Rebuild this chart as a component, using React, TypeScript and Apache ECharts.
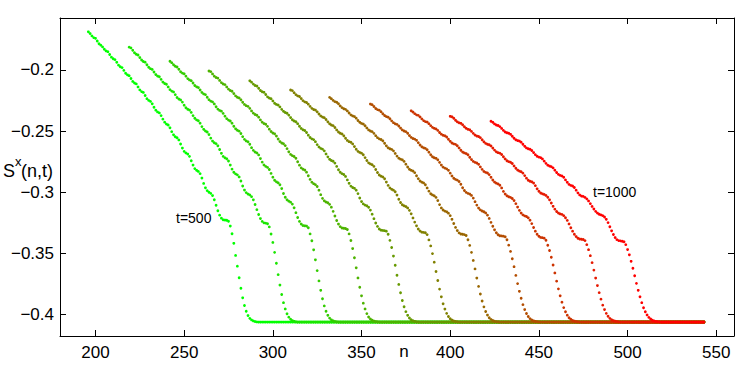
import React, { useEffect, useRef } from "react";
import * as echarts from "echarts";

// ---- data ----
const T_VALUES = [500, 550, 600, 650, 700, 750, 800, 850, 900, 950, 1000];
// first site n of each curve (one point per integer n)
const N_START = [196, 219, 242, 264, 287, 310, 332, 355, 378, 400, 423];
// common floor reached by every curve, and last site drawn
const PLATEAU = -0.406;
const N_END = 543;

const S_T500 = [-0.1690,-0.1704,-0.1723,-0.1737,-0.1743,-0.1765,-0.1787,-0.1799,-0.1813,-0.1832,-0.1846,-0.1852,-0.1875,-0.1897,-0.1910,-0.1917,-0.1939,-0.1962,-0.1975,-0.1982,-0.2005,-0.2028,-0.2041,-0.2048,-0.2071,-0.2095,-0.2108,-0.2115,-0.2140,-0.2164,-0.2178,-0.2185,-0.2210,-0.2236,-0.2250,-0.2258,-0.2278,-0.2306,-0.2330,-0.2344,-0.2352,-0.2374,-0.2403,-0.2428,-0.2443,-0.2451,-0.2474,-0.2505,-0.2531,-0.2547,-0.2555,-0.2573,-0.2606,-0.2639,-0.2666,-0.2679,-0.2688,-0.2707,-0.2743,-0.2778,-0.2807,-0.2821,-0.2830,-0.2848,-0.2884,-0.2928,-0.2964,-0.2987,-0.3000,-0.3009,-0.3027,-0.3061,-0.3106,-0.3151,-0.3187,-0.3212,-0.3225,-0.3227,-0.3229,-0.3237,-0.3276,-0.3339,-0.3417,-0.3516,-0.3604,-0.3698,-0.3784,-0.3862,-0.3925,-0.3972,-0.4007,-0.4030,-0.4043,-0.4051,-0.4056,-0.4059];
const S_T550 = [-0.1815,-0.1821,-0.1841,-0.1861,-0.1873,-0.1879,-0.1900,-0.1920,-0.1932,-0.1938,-0.1959,-0.1979,-0.1991,-0.1997,-0.2018,-0.2039,-0.2051,-0.2057,-0.2078,-0.2100,-0.2112,-0.2118,-0.2140,-0.2162,-0.2174,-0.2181,-0.2203,-0.2226,-0.2239,-0.2246,-0.2264,-0.2289,-0.2310,-0.2322,-0.2329,-0.2348,-0.2374,-0.2396,-0.2409,-0.2416,-0.2436,-0.2464,-0.2486,-0.2500,-0.2508,-0.2529,-0.2558,-0.2582,-0.2596,-0.2603,-0.2621,-0.2651,-0.2682,-0.2707,-0.2719,-0.2727,-0.2745,-0.2778,-0.2811,-0.2837,-0.2850,-0.2858,-0.2875,-0.2908,-0.2949,-0.2982,-0.3003,-0.3015,-0.3022,-0.3036,-0.3062,-0.3100,-0.3142,-0.3182,-0.3215,-0.3238,-0.3250,-0.3252,-0.3257,-0.3283,-0.3341,-0.3410,-0.3491,-0.3580,-0.3673,-0.3758,-0.3835,-0.3902,-0.3953,-0.3993,-0.4020,-0.4037,-0.4048,-0.4054,-0.4058];
const S_T600 = [-0.1930,-0.1942,-0.1959,-0.1971,-0.1977,-0.1996,-0.2016,-0.2027,-0.2033,-0.2052,-0.2072,-0.2083,-0.2089,-0.2108,-0.2128,-0.2139,-0.2145,-0.2165,-0.2185,-0.2197,-0.2203,-0.2224,-0.2244,-0.2256,-0.2262,-0.2279,-0.2302,-0.2321,-0.2332,-0.2338,-0.2356,-0.2379,-0.2399,-0.2411,-0.2418,-0.2436,-0.2461,-0.2482,-0.2494,-0.2501,-0.2520,-0.2546,-0.2568,-0.2581,-0.2588,-0.2608,-0.2636,-0.2658,-0.2672,-0.2679,-0.2695,-0.2725,-0.2754,-0.2777,-0.2789,-0.2797,-0.2814,-0.2846,-0.2877,-0.2902,-0.2915,-0.2923,-0.2939,-0.2970,-0.3010,-0.3041,-0.3062,-0.3073,-0.3081,-0.3097,-0.3127,-0.3167,-0.3206,-0.3238,-0.3260,-0.3272,-0.3274,-0.3276,-0.3290,-0.3340,-0.3396,-0.3470,-0.3552,-0.3640,-0.3724,-0.3801,-0.3870,-0.3928,-0.3972,-0.4005,-0.4028,-0.4042,-0.4050,-0.4055,-0.4058];
const S_T650 = [-0.2010,-0.2015,-0.2034,-0.2052,-0.2063,-0.2068,-0.2087,-0.2105,-0.2116,-0.2121,-0.2140,-0.2158,-0.2169,-0.2175,-0.2194,-0.2213,-0.2224,-0.2230,-0.2245,-0.2265,-0.2283,-0.2293,-0.2299,-0.2315,-0.2336,-0.2354,-0.2365,-0.2371,-0.2387,-0.2409,-0.2428,-0.2439,-0.2445,-0.2462,-0.2485,-0.2504,-0.2516,-0.2523,-0.2541,-0.2565,-0.2586,-0.2598,-0.2604,-0.2619,-0.2644,-0.2670,-0.2691,-0.2701,-0.2708,-0.2723,-0.2751,-0.2779,-0.2801,-0.2812,-0.2819,-0.2836,-0.2865,-0.2895,-0.2918,-0.2930,-0.2938,-0.2953,-0.2983,-0.3020,-0.3050,-0.3070,-0.3080,-0.3086,-0.3099,-0.3122,-0.3156,-0.3194,-0.3231,-0.3260,-0.3281,-0.3292,-0.3294,-0.3296,-0.3304,-0.3340,-0.3394,-0.3460,-0.3535,-0.3617,-0.3700,-0.3776,-0.3846,-0.3906,-0.3953,-0.3991,-0.4019,-0.4035,-0.4045,-0.4052,-0.4056,-0.4058];
const S_T700 = [-0.2090,-0.2101,-0.2117,-0.2128,-0.2133,-0.2151,-0.2169,-0.2179,-0.2184,-0.2202,-0.2221,-0.2231,-0.2236,-0.2254,-0.2273,-0.2283,-0.2288,-0.2303,-0.2323,-0.2339,-0.2349,-0.2355,-0.2370,-0.2390,-0.2408,-0.2418,-0.2424,-0.2440,-0.2461,-0.2479,-0.2490,-0.2496,-0.2512,-0.2534,-0.2553,-0.2564,-0.2570,-0.2587,-0.2611,-0.2630,-0.2642,-0.2648,-0.2662,-0.2687,-0.2711,-0.2731,-0.2741,-0.2747,-0.2762,-0.2789,-0.2816,-0.2837,-0.2848,-0.2855,-0.2871,-0.2899,-0.2927,-0.2950,-0.2961,-0.2968,-0.2983,-0.3011,-0.3047,-0.3076,-0.3095,-0.3105,-0.3111,-0.3123,-0.3146,-0.3179,-0.3216,-0.3251,-0.3279,-0.3300,-0.3310,-0.3312,-0.3314,-0.3318,-0.3343,-0.3393,-0.3451,-0.3521,-0.3596,-0.3678,-0.3753,-0.3821,-0.3884,-0.3935,-0.3975,-0.4005,-0.4027,-0.4041,-0.4049,-0.4054,-0.4058];
const S_T750 = [-0.2165,-0.2170,-0.2187,-0.2203,-0.2213,-0.2218,-0.2235,-0.2252,-0.2262,-0.2267,-0.2281,-0.2299,-0.2315,-0.2324,-0.2329,-0.2343,-0.2361,-0.2377,-0.2386,-0.2391,-0.2406,-0.2425,-0.2441,-0.2451,-0.2456,-0.2471,-0.2491,-0.2508,-0.2518,-0.2524,-0.2539,-0.2559,-0.2577,-0.2587,-0.2592,-0.2605,-0.2627,-0.2649,-0.2666,-0.2675,-0.2681,-0.2694,-0.2717,-0.2741,-0.2760,-0.2769,-0.2775,-0.2789,-0.2814,-0.2839,-0.2859,-0.2869,-0.2875,-0.2890,-0.2917,-0.2944,-0.2965,-0.2976,-0.2983,-0.2996,-0.3023,-0.3057,-0.3084,-0.3102,-0.3111,-0.3117,-0.3128,-0.3148,-0.3176,-0.3210,-0.3244,-0.3274,-0.3300,-0.3317,-0.3326,-0.3328,-0.3331,-0.3346,-0.3389,-0.3438,-0.3501,-0.3571,-0.3647,-0.3721,-0.3791,-0.3854,-0.3911,-0.3954,-0.3989,-0.4015,-0.4033,-0.4044,-0.4051,-0.4055,-0.4058];
const S_T800 = [-0.2225,-0.2236,-0.2250,-0.2260,-0.2265,-0.2277,-0.2295,-0.2309,-0.2318,-0.2323,-0.2336,-0.2353,-0.2368,-0.2377,-0.2382,-0.2395,-0.2414,-0.2429,-0.2438,-0.2443,-0.2457,-0.2475,-0.2491,-0.2500,-0.2505,-0.2519,-0.2538,-0.2554,-0.2564,-0.2569,-0.2580,-0.2600,-0.2621,-0.2637,-0.2645,-0.2650,-0.2662,-0.2683,-0.2705,-0.2722,-0.2730,-0.2735,-0.2748,-0.2771,-0.2794,-0.2812,-0.2821,-0.2827,-0.2840,-0.2865,-0.2889,-0.2908,-0.2918,-0.2924,-0.2939,-0.2965,-0.2991,-0.3012,-0.3022,-0.3029,-0.3042,-0.3068,-0.3101,-0.3128,-0.3145,-0.3154,-0.3160,-0.3171,-0.3191,-0.3221,-0.3255,-0.3287,-0.3313,-0.3332,-0.3341,-0.3343,-0.3346,-0.3353,-0.3388,-0.3434,-0.3491,-0.3557,-0.3626,-0.3701,-0.3769,-0.3831,-0.3888,-0.3936,-0.3974,-0.4003,-0.4025,-0.4038,-0.4047,-0.4053,-0.4057,-0.4058];
const S_T850 = [-0.2280,-0.2285,-0.2300,-0.2316,-0.2325,-0.2330,-0.2342,-0.2359,-0.2373,-0.2382,-0.2387,-0.2400,-0.2417,-0.2432,-0.2441,-0.2446,-0.2459,-0.2476,-0.2491,-0.2500,-0.2505,-0.2518,-0.2537,-0.2552,-0.2561,-0.2566,-0.2576,-0.2595,-0.2614,-0.2629,-0.2637,-0.2642,-0.2653,-0.2673,-0.2694,-0.2710,-0.2718,-0.2723,-0.2735,-0.2756,-0.2778,-0.2795,-0.2803,-0.2809,-0.2821,-0.2844,-0.2867,-0.2886,-0.2895,-0.2901,-0.2912,-0.2935,-0.2963,-0.2986,-0.3001,-0.3009,-0.3015,-0.3026,-0.3048,-0.3077,-0.3105,-0.3129,-0.3144,-0.3153,-0.3159,-0.3169,-0.3187,-0.3214,-0.3246,-0.3278,-0.3307,-0.3331,-0.3347,-0.3355,-0.3357,-0.3359,-0.3364,-0.3388,-0.3432,-0.3483,-0.3543,-0.3608,-0.3679,-0.3746,-0.3809,-0.3866,-0.3918,-0.3958,-0.3990,-0.4015,-0.4032,-0.4043,-0.4050,-0.4054,-0.4057,-0.4059];
const S_T900 = [-0.2335,-0.2345,-0.2358,-0.2368,-0.2372,-0.2385,-0.2401,-0.2415,-0.2423,-0.2427,-0.2440,-0.2456,-0.2470,-0.2478,-0.2483,-0.2495,-0.2512,-0.2526,-0.2535,-0.2539,-0.2549,-0.2567,-0.2584,-0.2598,-0.2605,-0.2609,-0.2620,-0.2638,-0.2657,-0.2672,-0.2679,-0.2684,-0.2694,-0.2714,-0.2733,-0.2748,-0.2756,-0.2761,-0.2772,-0.2793,-0.2813,-0.2830,-0.2838,-0.2843,-0.2856,-0.2878,-0.2900,-0.2917,-0.2926,-0.2932,-0.2943,-0.2965,-0.2993,-0.3015,-0.3029,-0.3037,-0.3042,-0.3051,-0.3068,-0.3093,-0.3121,-0.3148,-0.3170,-0.3185,-0.3193,-0.3198,-0.3209,-0.3228,-0.3256,-0.3288,-0.3318,-0.3343,-0.3360,-0.3369,-0.3371,-0.3375,-0.3392,-0.3433,-0.3476,-0.3531,-0.3594,-0.3659,-0.3726,-0.3789,-0.3846,-0.3898,-0.3942,-0.3976,-0.4004,-0.4025,-0.4037,-0.4047,-0.4052,-0.4056,-0.4058];
const S_T950 = [-0.2380,-0.2384,-0.2396,-0.2412,-0.2425,-0.2433,-0.2437,-0.2449,-0.2465,-0.2478,-0.2486,-0.2490,-0.2503,-0.2519,-0.2533,-0.2541,-0.2545,-0.2554,-0.2571,-0.2588,-0.2601,-0.2608,-0.2612,-0.2622,-0.2639,-0.2656,-0.2670,-0.2677,-0.2681,-0.2692,-0.2710,-0.2728,-0.2743,-0.2750,-0.2755,-0.2765,-0.2785,-0.2804,-0.2819,-0.2827,-0.2832,-0.2844,-0.2864,-0.2885,-0.2902,-0.2910,-0.2915,-0.2925,-0.2946,-0.2972,-0.2992,-0.3006,-0.3013,-0.3018,-0.3026,-0.3041,-0.3062,-0.3088,-0.3115,-0.3138,-0.3157,-0.3170,-0.3177,-0.3181,-0.3191,-0.3208,-0.3230,-0.3259,-0.3290,-0.3318,-0.3343,-0.3362,-0.3376,-0.3382,-0.3384,-0.3386,-0.3395,-0.3428,-0.3469,-0.3518,-0.3575,-0.3636,-0.3701,-0.3762,-0.3820,-0.3873,-0.3922,-0.3958,-0.3989,-0.4013,-0.4030,-0.4041,-0.4048,-0.4053,-0.4056,-0.4059];
const S_T1000 = [-0.2420,-0.2429,-0.2442,-0.2451,-0.2455,-0.2464,-0.2479,-0.2495,-0.2508,-0.2514,-0.2518,-0.2527,-0.2543,-0.2559,-0.2572,-0.2578,-0.2582,-0.2591,-0.2608,-0.2625,-0.2638,-0.2645,-0.2649,-0.2659,-0.2676,-0.2693,-0.2706,-0.2713,-0.2717,-0.2728,-0.2746,-0.2764,-0.2779,-0.2786,-0.2791,-0.2801,-0.2820,-0.2839,-0.2854,-0.2862,-0.2867,-0.2878,-0.2899,-0.2919,-0.2936,-0.2944,-0.2949,-0.2961,-0.2983,-0.3005,-0.3022,-0.3031,-0.3034,-0.3042,-0.3054,-0.3071,-0.3093,-0.3116,-0.3137,-0.3156,-0.3170,-0.3180,-0.3185,-0.3191,-0.3202,-0.3221,-0.3248,-0.3282,-0.3315,-0.3345,-0.3370,-0.3387,-0.3395,-0.3397,-0.3400,-0.3405,-0.3428,-0.3468,-0.3511,-0.3564,-0.3621,-0.3682,-0.3744,-0.3801,-0.3854,-0.3902,-0.3943,-0.3976,-0.4002,-0.4022,-0.4035,-0.4045,-0.4051,-0.4055,-0.4057,-0.4059];

const CURVES = [S_T500, S_T550, S_T600, S_T650, S_T700, S_T750, S_T800, S_T850, S_T900, S_T950, S_T1000];

const X_TICKS = [200, 250, 300, 350, 400, 450, 500, 550];
const Y_TICKS = [-0.4, -0.35, -0.3, -0.25, -0.2];
const X_MIN = 180, X_MAX = 560;
const Y_MIN = -0.4174, Y_MAX = -0.1577;

const FONT = '"Liberation Sans", Arial, Helvetica, sans-serif';

function curveColor(k: number, count: number): string {
  const f = k / (count - 1);
  return `rgb(${Math.round(255 * f)},${Math.round(255 * (1 - f))},0)`;
}

export default function App() {
  const ref = useRef<HTMLDivElement>(null);

  useEffect(() => {
    if (!ref.current) return;
    const chart = echarts.init(ref.current, undefined, { renderer: "svg" });

    const series = CURVES.map((vals, k) => {
      const n0 = N_START[k];
      const data: number[][] = vals.map((v, i) => [n0 + i, v]);
      for (let n = n0 + vals.length; n <= N_END; n++) data.push([n, PLATEAU]);
      return {
        type: "scatter",
        name: "t=" + T_VALUES[k],
        data,
        symbol: "circle",
        symbolSize: 2.8,
        silent: true,
        itemStyle: { color: curveColor(k, CURVES.length), opacity: 1 },
      };
    });

    const axisLine = { show: true, onZero: false, lineStyle: { color: "#000", width: 1 } };
    const tickStyle = { color: "#000", width: 1 };

    const option: any = {
      animation: false,
      backgroundColor: "#ffffff",
      grid: { left: 60, right: 13, top: 18, bottom: 39, containLabel: false },
      xAxis: [
        {
          type: "value", min: X_MIN, max: X_MAX, position: "bottom",
          axisLine,
          axisTick: { show: true, inside: true, length: 6, customValues: X_TICKS, lineStyle: tickStyle },
          axisLabel: { show: true, customValues: X_TICKS, color: "#000", fontSize: 17, fontFamily: FONT, margin: 8 },
          splitLine: { show: false },
        },
        {
          type: "value", min: X_MIN, max: X_MAX, position: "top",
          axisLine,
          axisTick: { show: true, inside: true, length: 6, customValues: X_TICKS, lineStyle: tickStyle },
          axisLabel: { show: false },
          splitLine: { show: false },
        },
      ],
      yAxis: [
        {
          type: "value", min: Y_MIN, max: Y_MAX, position: "left",
          axisLine,
          axisTick: { show: true, inside: true, length: 6, customValues: Y_TICKS, lineStyle: tickStyle },
          axisLabel: {
            show: true, customValues: Y_TICKS, color: "#000", fontSize: 17, fontFamily: FONT, margin: 6,
            formatter: (v: number) => (v < 0 ? "\u2212" + String(Math.abs(v)) : String(v)),
          },
          splitLine: { show: false },
        },
        {
          type: "value", min: Y_MIN, max: Y_MAX, position: "right",
          axisLine,
          axisTick: { show: true, inside: true, length: 6, customValues: Y_TICKS, lineStyle: tickStyle },
          axisLabel: { show: false },
          splitLine: { show: false },
        },
      ],
      graphic: [
        { type: "text", x: 3, y: 171, style: { text: "S", fill: "#000", fontSize: 18, fontFamily: FONT, textAlign: "left", textVerticalAlign: "middle", align: "left", verticalAlign: "middle" } },
        { type: "text", x: 15, y: 161, style: { text: "x", fill: "#000", fontSize: 13, fontFamily: FONT, textAlign: "left", textVerticalAlign: "middle", align: "left", verticalAlign: "middle" } },
        { type: "text", x: 21, y: 171, style: { text: "(n,t)", fill: "#000", fontSize: 18, fontFamily: FONT, textAlign: "left", textVerticalAlign: "middle", align: "left", verticalAlign: "middle" } },
        { type: "text", x: 404, y: 351, style: { text: "n", fill: "#000", fontSize: 17, fontFamily: FONT, textAlign: "center", textVerticalAlign: "middle", align: "center", verticalAlign: "middle" } },
        { type: "text", x: 176, y: 218, style: { text: "t=500", fill: "#000", fontSize: 14, fontFamily: FONT, textAlign: "left", textVerticalAlign: "middle", align: "left", verticalAlign: "middle" } },
        { type: "text", x: 593, y: 192, style: { text: "t=1000", fill: "#000", fontSize: 14, fontFamily: FONT, textAlign: "left", textVerticalAlign: "middle", align: "left", verticalAlign: "middle" } },
      ],
      series,
    };

    chart.setOption(option);
    return () => chart.dispose();
  }, []);

  return (
    <div
      ref={ref}
      style={{ position: "absolute", left: 0, top: 0, width: 747, height: 375, background: "#fff" }}
    />
  );
}
